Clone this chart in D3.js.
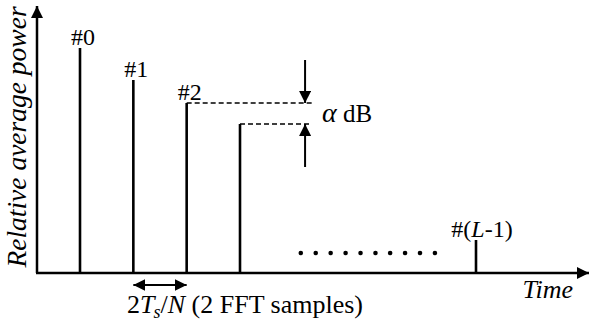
<!DOCTYPE html>
<html>
<head>
<meta charset="utf-8">
<script src="https://cdn.jsdelivr.net/npm/d3@7"></script>
</head>
<body style="margin:0; background:#fff">
<svg id="chart" width="590" height="327"></svg>
<script>
// Data (time in FFT samples, power in relative units)
var labels = ["#0", "#1", "#2", "", "#(L-1)"];
var samples = [0, 2, 4, 6, 14.85];
var power = [225, 193, 170, 149, 33];
var dotSamples = [8.28, 8.84, 9.40, 9.96, 10.52, 11.08, 11.63, 12.19, 12.75, 13.31];
var alphaAt = 8.44;            // where the alpha arrows stand
var dashEnd = 8.7;             // where the dashed guides stop

var FONT = "'Liberation Serif', serif";

var svg = d3.select("#chart"),
    x0 = 37, y0 = 273;

var x = d3.scaleLinear().domain([0, 6]).range([80, 240]),
    y = d3.scaleLinear().domain([0, 225]).range([y0, 48]);

var bars = samples.map(function (s, i) {
    return { t: s, p: power[i], label: labels[i] };
});

// Arrow head markers
var defs = svg.append("defs");
defs.append("marker")
    .attr("id", "head")
    .attr("viewBox", "0 0 10 10")
    .attr("refX", 10).attr("refY", 5)
    .attr("markerWidth", 12).attr("markerHeight", 12)
    .attr("markerUnits", "userSpaceOnUse")
    .attr("orient", "auto-start-reverse")
    .append("path")
    .attr("d", "M0,0L10,5L0,10Z")
    .attr("fill", "#000");

// Axes
svg.append("line")
    .attr("x1", x0).attr("y1", y0)
    .attr("x2", x0).attr("y2", 6)
    .attr("stroke", "#000").attr("stroke-width", 2.5)
    .attr("marker-end", "url(#head)");

svg.append("line")
    .attr("x1", x0 - 1).attr("y1", y0)
    .attr("x2", 589).attr("y2", y0)
    .attr("stroke", "#000").attr("stroke-width", 2.5)
    .attr("marker-end", "url(#head)");

// Bars (impulses)
svg.selectAll(".bar")
    .data(bars)
    .enter()
    .append("line")
    .attr("class", "bar")
    .attr("x1", function (d) { return x(d.t); })
    .attr("x2", function (d) { return x(d.t); })
    .attr("y1", y0)
    .attr("y2", function (d) { return y(d.p); })
    .attr("stroke", "#000")
    .attr("stroke-width", 2.6);

// Bar labels
var lab = svg.selectAll(".lab")
    .data(bars.filter(function (d) { return d.label !== ""; }))
    .enter()
    .append("text")
    .attr("class", "lab")
    .attr("x", function (d) { return x(d.t) + 3; })
    .attr("y", function (d) { return y(d.p) - 3; })
    .attr("text-anchor", "middle")
    .style("font-family", FONT)
    .style("font-size", "24px");

lab.each(function (d) {
    var t = d3.select(this);
    if (d.label === "#(L-1)") {
        t.attr("x", x(d.t) + 6);
        t.append("tspan").text("#(");
        t.append("tspan").style("font-style", "italic").text("L");
        t.append("tspan").text("-1)");
    } else {
        t.text(d.label);
    }
});

// Dashed guides for the alpha step
[bars[2], bars[3]].forEach(function (d) {
    svg.append("line")
        .attr("x1", x(d.t)).attr("y1", y(d.p))
        .attr("x2", x(dashEnd)).attr("y2", y(d.p))
        .attr("stroke", "#000")
        .attr("stroke-width", 1.6)
        .attr("stroke-dasharray", "5,3");
});

// Alpha arrows
svg.append("line")
    .attr("x1", x(alphaAt)).attr("y1", 60)
    .attr("x2", x(alphaAt)).attr("y2", y(bars[2].p))
    .attr("stroke", "#000").attr("stroke-width", 2)
    .attr("marker-end", "url(#head)");

svg.append("line")
    .attr("x1", x(alphaAt)).attr("y1", 167)
    .attr("x2", x(alphaAt)).attr("y2", y(bars[3].p))
    .attr("stroke", "#000").attr("stroke-width", 2)
    .attr("marker-end", "url(#head)");

var alpha = svg.append("text")
    .attr("x", 322)
    .attr("y", (y(bars[2].p) + y(bars[3].p)) / 2 + 8)
    .style("font-family", FONT)
    .style("font-size", "25px");
alpha.append("tspan").style("font-style", "italic").style("font-size", "28px").text("\u03B1");
alpha.append("tspan").text(" dB");

// Dots
svg.selectAll(".dot")
    .data(dotSamples)
    .enter()
    .append("circle")
    .attr("class", "dot")
    .attr("cx", function (d) { return x(d); })
    .attr("cy", 253)
    .attr("r", 2.3)
    .attr("fill", "#000");

// Double arrow for 2 FFT samples
svg.append("line")
    .attr("x1", x(bars[1].t)).attr("y1", 285)
    .attr("x2", x(bars[2].t)).attr("y2", 285)
    .attr("stroke", "#000").attr("stroke-width", 2.2)
    .attr("marker-start", "url(#head)")
    .attr("marker-end", "url(#head)");

var span = svg.append("text")
    .attr("x", 127)
    .attr("y", 313)
    .style("font-family", FONT)
    .style("font-size", "26px");
span.append("tspan").text("2");
span.append("tspan").style("font-style", "italic").text("T");
span.append("tspan").style("font-style", "italic").style("font-size", "18px").attr("dy", 5).attr("dx", -1).text("s");
span.append("tspan").attr("dy", -5).text("/");
span.append("tspan").style("font-style", "italic").text("N");
span.append("tspan").text(" (2 FFT samples)");

// Axis titles
svg.append("text")
    .attr("x", 573)
    .attr("y", 298)
    .attr("text-anchor", "end")
    .style("font-family", FONT)
    .style("font-style", "italic")
    .style("font-size", "26px")
    .text("Time");

svg.append("text")
    .attr("transform", "translate(26,137) rotate(-90)")
    .attr("text-anchor", "middle")
    .style("font-family", FONT)
    .style("font-style", "italic")
    .style("font-size", "27.5px")
    .text("Relative average power");
</script>
</body>
</html>
